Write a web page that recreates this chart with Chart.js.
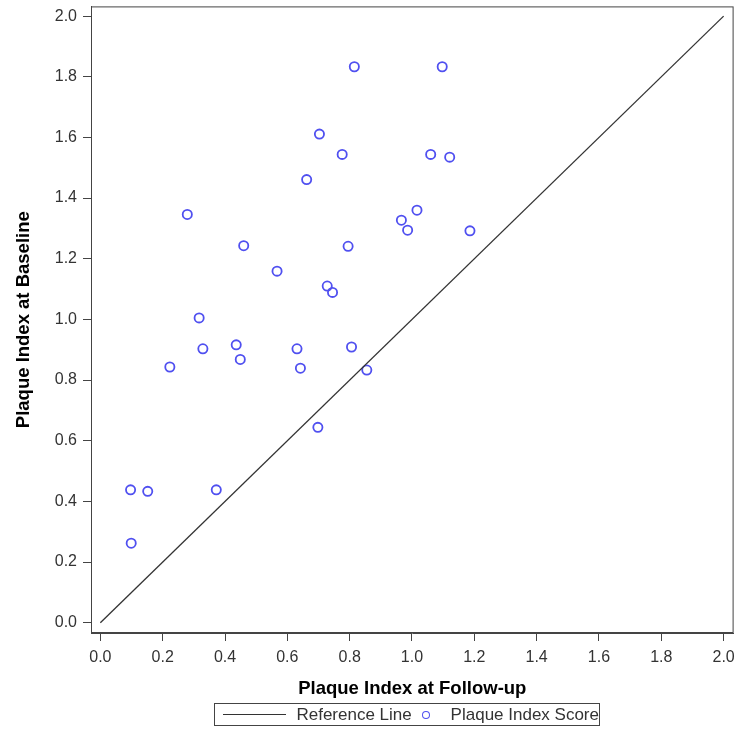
<!DOCTYPE html>
<html>
<head>
<meta charset="utf-8">
<script src="https://cdn.jsdelivr.net/npm/chart.js@4"></script>
<style>
  body { margin: 0; background: #fff; font-family: "Liberation Sans", Arial, sans-serif; }
  #wrap { position: relative; width: 740px; height: 731px; }
  #legend {
    position: absolute; left: 214px; top: 703px; width: 384px; height: 21px;
    border: 1px solid #444; display: flex; align-items: center;
    font-size: 17px; color: #333; white-space: nowrap;
  }
  .ref-line { display: inline-block; width: 65px; height: 0; border-top: 1.4px solid #333; margin-left: 8px; margin-right: 10px; }
  .ref-dot { display: inline-block; width: 6px; height: 6px; border: 1.7px solid #5050f0; border-radius: 50%; margin-left: 10px; margin-right: 21px; }
</style>
</head>
<body>
<div id="wrap">
  <canvas id="chart" width="740" height="731"></canvas>
  <div id="legend">
    <span class="ref-line"></span><span>Reference Line</span>
    <span class="ref-dot"></span><span>Plaque Index Score</span>
  </div>
</div>
<script>
// scatter values
const followUp = [0.815, 0.703, 0.776, 0.662, 0.279, 0.460, 0.795, 0.567, 0.728, 0.745,
  0.317, 0.329, 0.436, 0.449, 0.631, 0.806, 0.223, 0.642, 1.097, 1.060,
  1.121, 1.016, 0.966, 0.986, 1.186, 0.855, 0.698, 0.097, 0.152, 0.372, 0.099];
const baseline = [1.833, 1.611, 1.544, 1.461, 1.346, 1.243, 1.241, 1.159, 1.110, 1.089,
  1.005, 0.903, 0.916, 0.868, 0.903, 0.909, 0.843, 0.839, 1.833, 1.544,
  1.535, 1.360, 1.327, 1.294, 1.292, 0.833, 0.644, 0.438, 0.433, 0.438, 0.262];

// identity reference line
const refX = [0, 2];
const refY = [0, 2];

const tickValues = [0, 0.2, 0.4, 0.6, 0.8, 1.0, 1.2, 1.4, 1.6, 1.8, 2.0];

const markerColor = '#5050f0';
const axisColor = '#444';
const FONT = '"Liberation Sans", Arial, sans-serif';

// box around the plot area
const frame = {
  id: 'frame',
  afterDraw(chart) {
    const { ctx, chartArea: a } = chart;
    ctx.save();
    ctx.strokeStyle = axisColor;
    ctx.lineWidth = 1;
    ctx.strokeRect(a.left + 0.5, a.top + 0.5, a.right - a.left - 1, a.bottom - a.top - 1);
    ctx.restore();
  }
};

function fixTicks(scale) {
  scale.ticks = tickValues.map(v => ({ value: v }));
}

new Chart(document.getElementById('chart'), {
  type: 'scatter',
  data: {
    datasets: [
      {
        type: 'line',
        label: 'Reference Line',
        data: refX.map((x, i) => ({ x, y: refY[i] })),
        borderColor: '#333',
        borderWidth: 1.3,
        pointRadius: 0,
        fill: false
      },
      {
        label: 'Plaque Index Score',
        data: followUp.map((x, i) => ({ x, y: baseline[i] })),
        borderColor: markerColor,
        backgroundColor: 'rgba(0,0,0,0)',
        borderWidth: 1.8,
        pointRadius: 4.6
      }
    ]
  },
  options: {
    responsive: false,
    animation: false,
    layout: { padding: { top: 6, right: 6, left: 0, bottom: 31 } },
    plugins: {
      legend: { display: false },
      tooltip: { enabled: false }
    },
    scales: {
      x: {
        type: 'linear',
        min: -0.03,
        max: 2.032,
        afterBuildTicks: fixTicks,
        afterFit: s => { s.height = 67; s.paddingLeft = 0; s.paddingRight = 0; },
        grid: { drawOnChartArea: false, color: axisColor, tickLength: 8 },
        border: { color: axisColor },
        ticks: {
          color: '#333', padding: 7, maxRotation: 0,
          font: { family: FONT, size: 16 },
          callback: v => v.toFixed(1)
        },
        title: {
          display: true, text: 'Plaque Index at Follow-up', color: '#000',
          font: { family: FONT, size: 18.5, weight: 'bold' },
          padding: { top: 0, bottom: 0 }
        }
      },
      y: {
        type: 'linear',
        min: -0.034,
        max: 2.032,
        afterBuildTicks: fixTicks,
        afterFit: s => { s.width = 91; s.paddingTop = 0; s.paddingBottom = 0; },
        grid: { drawOnChartArea: false, color: axisColor, tickLength: 8 },
        border: { color: axisColor },
        ticks: {
          color: '#333', padding: 6,
          font: { family: FONT, size: 16 },
          callback: v => v.toFixed(1)
        },
        title: {
          display: true, text: 'Plaque Index at Baseline', color: '#000',
          font: { family: FONT, size: 18.5, weight: 'bold' },
          padding: { top: 13, bottom: 0 }
        }
      }
    }
  },
  plugins: [frame]
});
</script>
</body>
</html>
